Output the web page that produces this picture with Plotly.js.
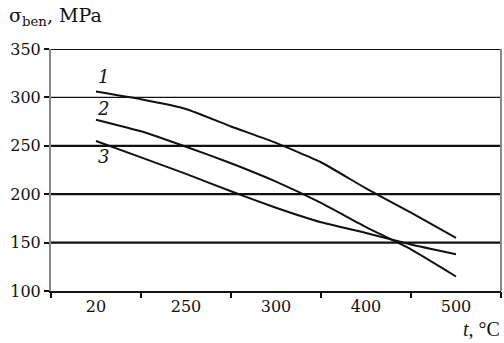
<!DOCTYPE html>
<html><head><meta charset="utf-8">
<script src="https://cdn.plot.ly/plotly-3.0.1.min.js"></script>
<style>html,body{margin:0;padding:0;background:#fff}#chart{width:504px;height:343px}</style>
</head><body><div id="chart"></div>
<script>
// Temperature categories (x-axis tick labels)
const tempLabels = ['20', '250', '300', '400', '500'];
const tempIndex = [0, 1, 2, 3, 4];
const boundaryIndex = [-0.5, 0.5, 1.5, 2.5, 3.5, 4.5];
// Sample positions along the category axis (index units)
const xPos = [0, 0.5, 1, 1.5, 2, 2.5, 3, 3.5, 4];
// Bending strength, MPa
const curve1 = [306, 298, 288, 270, 253, 233, 206, 181, 155];
const curve2 = [277, 265, 249, 232, 213, 191, 166, 143, 115];
const curve3 = [255, 238, 221, 203, 186, 171, 160, 148, 138];
const curveNames = ['1', '2', '3'];
const gridVals = [150, 200, 250, 300, 350];
const yTicks = [100, 150, 200, 250, 300, 350];

const FONT = 'DejaVu Serif';
const TFONT = 'Liberation Serif';
const lineStyle = {color: '#111', width: 2, shape: 'spline', smoothing: 0.4};
const traces = [curve1, curve2, curve3].map((ys, k) => ({
  x: xPos, y: ys, type: 'scatter', mode: 'lines', name: curveNames[k],
  line: lineStyle, hoverinfo: 'skip', xaxis: 'x', yaxis: 'y'
}));

const shapes = gridVals.map(v => ({
  type: 'line', xref: 'paper', x0: 0, x1: 1, yref: 'y', y0: v, y1: v,
  line: {color: '#111', width: v === 300 ? 1.2 : 2.2}, layer: 'below'
}));
// right border
shapes.push({type: 'line', xref: 'paper', x0: 1, x1: 1, yref: 'paper', y0: 0, y1: 1,
  line: {color: '#888', width: 2}});

const labelY = [322, 289, 239];
const annotations = curveNames.map((n, k) => ({
  x: 0.08, y: labelY[k], xref: 'x', yref: 'y', text: n, showarrow: false,
  font: {family: FONT, size: 18, color: '#111', style: 'italic'}
}));
annotations.push({
  xref: 'paper', yref: 'paper', x: -0.097, y: 1.195, xanchor: 'left', yanchor: 'top',
  text: 'σ<sub>ben</sub>, MPa', showarrow: false,
  font: {family: FONT, size: 19, color: '#111'}
});
annotations.push({
  xref: 'paper', yref: 'paper', x: 1.003, y: -0.105, xanchor: 'right', yanchor: 'top',
  text: '<i>t</i>, °C', showarrow: false,
  font: {family: TFONT, size: 20, color: '#111'}
});

const layout = {
  width: 504, height: 343,
  margin: {l: 51, r: 3, t: 49, b: 52},
  paper_bgcolor: '#fff', plot_bgcolor: '#fff',
  showlegend: false,
  font: {family: FONT, size: 16, color: '#111'},
  xaxis: {
    range: [-0.5, 4.5], tickvals: tempIndex, ticktext: tempLabels,
    ticks: '', showgrid: false, zeroline: false,
    showline: true, linecolor: '#111', linewidth: 2,
    tickfont: {family: FONT, size: 16, color: '#111'}, fixedrange: true
  },
  xaxis2: {
    overlaying: 'x', side: 'bottom', anchor: 'y',
    range: [-0.5, 4.5], tickvals: boundaryIndex, showticklabels: false,
    ticks: 'outside', ticklen: 6, tickwidth: 2, tickcolor: '#111',
    showgrid: false, zeroline: false, showline: false
  },
  yaxis: {
    range: [100, 350], tickvals: yTicks, ticks: 'outside', ticklen: 5,
    tickwidth: 2, tickcolor: '#111', showgrid: false, zeroline: false,
    showline: true, linecolor: '#888', linewidth: 2,
    tickfont: {family: FONT, size: 16, color: '#111'}, fixedrange: true
  },
  shapes: shapes,
  annotations: annotations
};
// placeholder trace so the boundary-tick axis is drawn
traces.push({x: [0], y: [null], xaxis: 'x2', yaxis: 'y', type: 'scatter', mode: 'lines', hoverinfo: 'skip'});

Plotly.newPlot('chart', traces, layout, {staticPlot: true, displayModeBar: false});
</script></body></html>
